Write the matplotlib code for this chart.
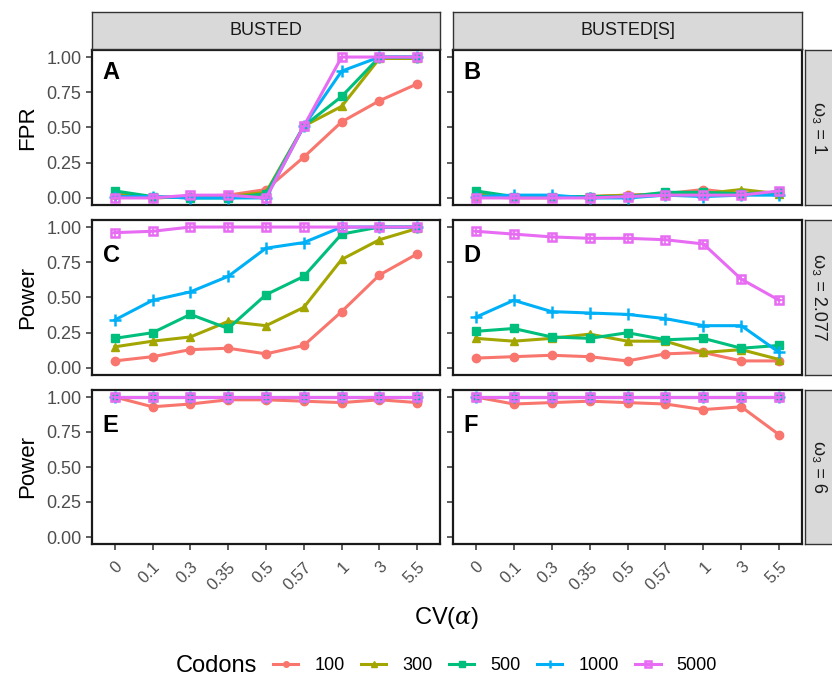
import matplotlib
matplotlib.use("Agg")
import matplotlib.pyplot as plt
from matplotlib.lines import Line2D

plt.rcParams['font.family'] = ['Liberation Sans Narrow', 'Liberation Sans', 'DejaVu Sans']
plt.rcParams['mathtext.fontset'] = 'dejavuserif'

cv_labels = ['0', '0.1', '0.3', '0.35', '0.5', '0.57', '1', '3', '5.5']
codons = ['100', '300', '500', '1000', '5000']
colors = ['#F8766D', '#A3A500', '#00BF7D', '#00B0F6', '#E76BF3']
markers = ['o', '^', 's', '+', 's']

methods = ['BUSTED', 'BUSTED[S]']
omegas = ['1', '2.077', '6']
row_ylabels = ['FPR', 'Power', 'Power']
panel_letters = [['A', 'B'], ['C', 'D'], ['E', 'F']]
letter_y = [0.89, 0.80, 0.80]

# panel A: BUSTED, omega3 = 1
A_100 = [0.02, 0.00, 0.01, 0.02, 0.06, 0.29, 0.54, 0.69, 0.81]
A_300 = [0.03, 0.00, 0.01, 0.01, 0.04, 0.51, 0.65, 0.99, 0.99]
A_500 = [0.05, 0.01, 0.00, 0.00, 0.03, 0.51, 0.72, 1.00, 1.00]
A_1000 = [0.01, 0.01, 0.00, 0.00, 0.00, 0.51, 0.90, 1.00, 1.00]
A_5000 = [0.00, 0.00, 0.02, 0.02, 0.00, 0.51, 1.00, 1.00, 1.00]

# panel B: BUSTED[S], omega3 = 1
B_100 = [0.01, 0.00, 0.00, 0.01, 0.02, 0.03, 0.06, 0.03, 0.04]
B_300 = [0.03, 0.01, 0.01, 0.01, 0.02, 0.02, 0.03, 0.06, 0.03]
B_500 = [0.05, 0.01, 0.01, 0.01, 0.01, 0.04, 0.04, 0.03, 0.04]
B_1000 = [0.01, 0.02, 0.02, 0.00, 0.00, 0.02, 0.01, 0.02, 0.02]
B_5000 = [0.00, 0.00, 0.00, 0.00, 0.01, 0.02, 0.02, 0.02, 0.05]

# panel C: BUSTED, omega3 = 2.077
C_100 = [0.05, 0.08, 0.13, 0.14, 0.10, 0.16, 0.40, 0.66, 0.81]
C_300 = [0.15, 0.19, 0.22, 0.33, 0.30, 0.43, 0.77, 0.91, 0.99]
C_500 = [0.21, 0.25, 0.38, 0.28, 0.52, 0.65, 0.95, 1.00, 1.00]
C_1000 = [0.34, 0.48, 0.54, 0.65, 0.85, 0.89, 1.00, 1.00, 1.00]
C_5000 = [0.96, 0.97, 1.00, 1.00, 1.00, 1.00, 1.00, 1.00, 1.00]

# panel D: BUSTED[S], omega3 = 2.077
D_100 = [0.07, 0.08, 0.09, 0.08, 0.05, 0.10, 0.11, 0.05, 0.05]
D_300 = [0.21, 0.19, 0.21, 0.24, 0.19, 0.19, 0.11, 0.13, 0.06]
D_500 = [0.26, 0.28, 0.22, 0.21, 0.25, 0.20, 0.21, 0.14, 0.16]
D_1000 = [0.36, 0.48, 0.40, 0.39, 0.38, 0.35, 0.30, 0.30, 0.11]
D_5000 = [0.97, 0.95, 0.93, 0.92, 0.92, 0.91, 0.88, 0.63, 0.48]

# panel E: BUSTED, omega3 = 6
E_100 = [1.00, 0.93, 0.95, 0.98, 0.98, 0.97, 0.96, 0.98, 0.96]
E_300 = [1.00, 1.00, 1.00, 1.00, 1.00, 1.00, 1.00, 1.00, 1.00]
E_500 = [1.00, 1.00, 1.00, 1.00, 1.00, 1.00, 1.00, 1.00, 1.00]
E_1000 = [1.00, 1.00, 1.00, 1.00, 1.00, 1.00, 1.00, 1.00, 1.00]
E_5000 = [1.00, 1.00, 1.00, 1.00, 1.00, 1.00, 1.00, 1.00, 1.00]

# panel F: BUSTED[S], omega3 = 6
F_100 = [1.00, 0.95, 0.96, 0.97, 0.96, 0.95, 0.91, 0.93, 0.73]
F_300 = [1.00, 1.00, 1.00, 1.00, 1.00, 1.00, 1.00, 1.00, 1.00]
F_500 = [1.00, 1.00, 1.00, 1.00, 1.00, 1.00, 1.00, 1.00, 1.00]
F_1000 = [1.00, 1.00, 1.00, 1.00, 1.00, 1.00, 1.00, 1.00, 1.00]
F_5000 = [1.00, 1.00, 1.00, 1.00, 1.00, 1.00, 1.00, 1.00, 1.00]

panels = [[[A_100, A_300, A_500, A_1000, A_5000], [B_100, B_300, B_500, B_1000, B_5000]],
          [[C_100, C_300, C_500, C_1000, C_5000], [D_100, D_300, D_500, D_1000, D_5000]],
          [[E_100, E_300, E_500, E_1000, E_5000], [F_100, F_300, F_500, F_1000, F_5000]]]

W, H = 832, 678
fig = plt.figure(figsize=(W / 100, H / 100), dpi=100)

def frac(x0, y0, x1, y1):
    return [x0 / W, 1 - y1 / H, (x1 - x0) / W, (y1 - y0) / H]

col_x = [(92, 440), (453, 802)]
row_y = [(50, 205), (220, 375), (390, 544)]
xs = list(range(1, len(cv_labels) + 1))
grey = '#4D4D4D'
sans = ['Liberation Sans', 'DejaVu Sans']

def line_style(i, ms=6):
    c = colors[i]
    if i == 3:
        return dict(color=c, lw=2.2, marker='+', ms=ms * 1.5, mew=1.8)
    if i == 4:
        return dict(color=c, lw=2.2, marker='s', ms=ms, mfc='none', mew=1.8)
    return dict(color=c, lw=2.2, marker=markers[i], ms=ms)

for r in range(3):
    for c in range(2):
        ax = fig.add_axes(frac(col_x[c][0], row_y[r][0], col_x[c][1], row_y[r][1]))
        for i, vals in enumerate(panels[r][c]):
            ax.plot(xs, vals, zorder=3, **line_style(i))
            if i == 4:
                ax.plot(xs, vals, ls='none', marker='+', ms=6, mew=1.2, color=colors[i], zorder=3)
        ax.set_xlim(0.4, 9.6)
        ax.set_ylim(-0.05, 1.05)
        ax.set_yticks([0, 0.25, 0.5, 0.75, 1.0])
        ax.set_xticks(xs)
        for s in ax.spines.values():
            s.set_linewidth(1.6)
            s.set_color('#1a1a1a')
        ax.tick_params(color='#333333', width=1.1, length=4, labelcolor=grey, labelsize=13)
        if c == 0:
            ax.set_yticklabels(['0.00', '0.25', '0.50', '0.75', '1.00'])
            ax.set_ylabel(row_ylabels[r], fontsize=16, labelpad=6, color='black')
        else:
            ax.set_yticklabels([])
        if r == 2:
            ax.set_xticklabels(cv_labels, rotation=45, ha='right', va='top',
                               rotation_mode='anchor', fontsize=12)
            ax.tick_params(axis='x', pad=7)
        else:
            ax.set_xticklabels([])
            ax.tick_params(axis='x', length=0)
        ax.text(0.68, letter_y[r], panel_letters[r][c], fontsize=17, fontweight='bold',
                va='center', ha='left', family=sans)

# top strips
for c in range(2):
    sx = fig.add_axes(frac(col_x[c][0], 12, col_x[c][1], 49))
    sx.set_facecolor('#D9D9D9')
    sx.set_xticks([])
    sx.set_yticks([])
    for s in sx.spines.values():
        s.set_color('#333333')
        s.set_linewidth(1.0)
    sx.text(0.5, 0.5, methods[c], ha='center', va='center', fontsize=13,
            color='#1a1a1a', family=sans)

# right strips
for r in range(3):
    sx = fig.add_axes(frac(805, row_y[r][0], 845, row_y[r][1]))
    sx.set_facecolor('#D9D9D9')
    sx.set_xticks([])
    sx.set_yticks([])
    for s in sx.spines.values():
        s.set_color('#333333')
        s.set_linewidth(1.0)
    sx.text(0.33, 0.5, '\u03c9\u2083 = ' + omegas[r], ha='center', va='center',
            rotation=-90, fontsize=13, color='#1a1a1a', transform=sx.transAxes,
            family=sans)

fig.text(447 / W, 1 - 618 / H, 'CV($\\alpha$)', ha='center', va='center', fontsize=17)

# legend
fig.text(216 / W, 1 - 666 / H, 'Codons', ha='center', va='center', fontsize=17)
handles = [Line2D([], [], **line_style(i, ms=4)) for i in range(5)]
fig.legend(handles, codons, loc='center left', bbox_to_anchor=(273 / W, 1 - 666 / H),
           ncol=5, frameon=False, fontsize=13, handlelength=1.4,
           handletextpad=0.9, columnspacing=0.9, borderpad=0, borderaxespad=0)

fig.savefig('out.png', dpi=100)
